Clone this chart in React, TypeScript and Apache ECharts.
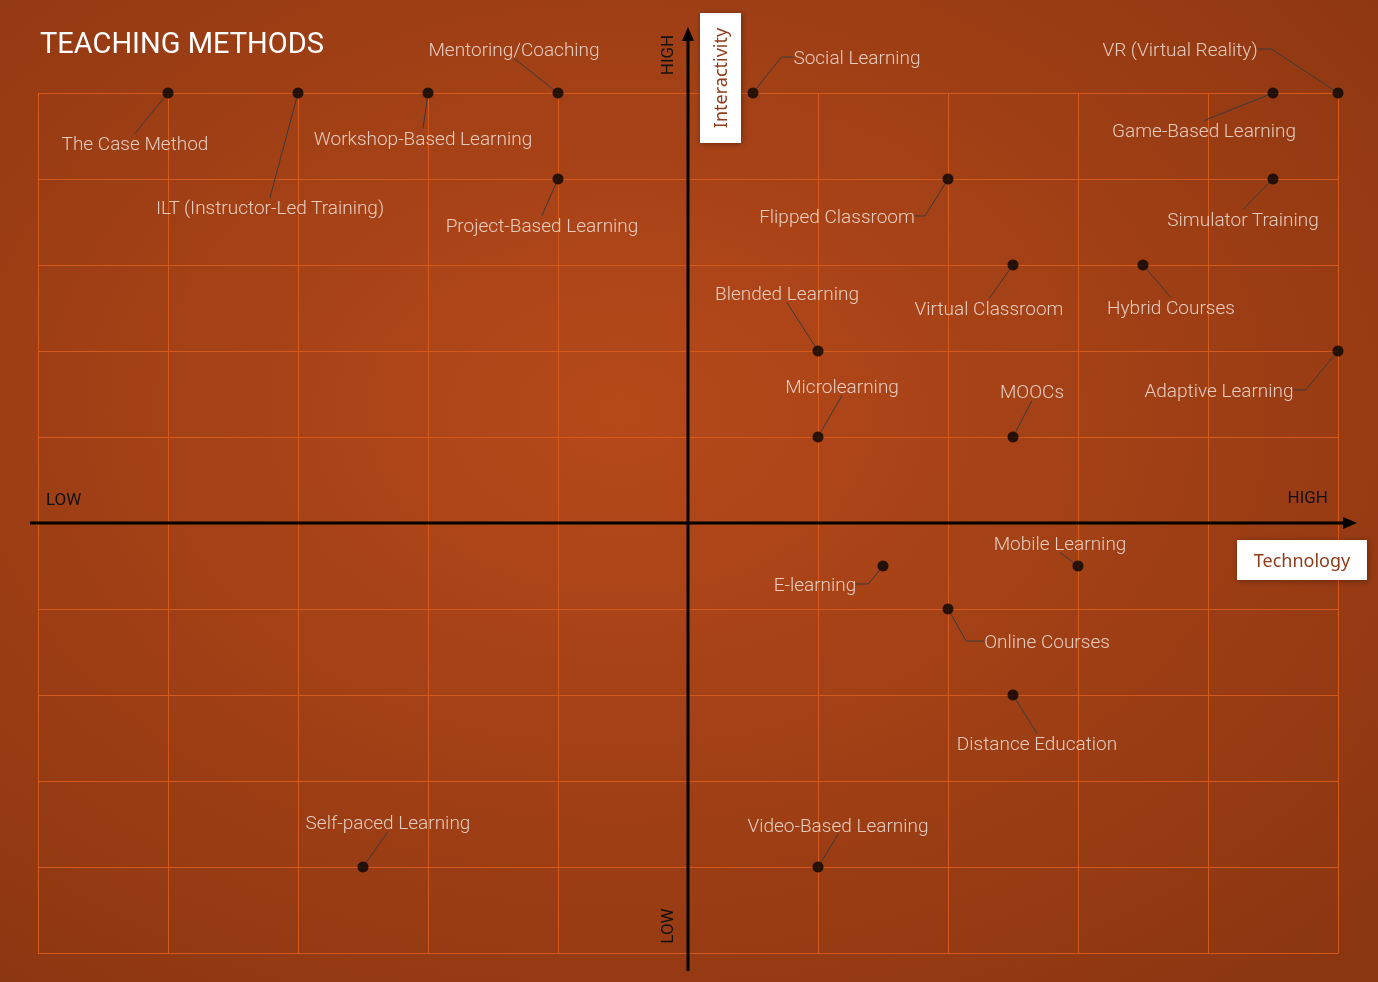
import React, { useEffect, useRef } from "react";
import * as echarts from "echarts";

// ---- data ----
const methods = [
  "The Case Method",
  "ILT (Instructor-Led Training)",
  "Workshop-Based Learning",
  "Mentoring/Coaching",
  "Project-Based Learning",
  "Social Learning",
  "VR (Virtual Reality)",
  "Game-Based Learning",
  "Flipped Classroom",
  "Simulator Training",
  "Virtual Classroom",
  "Hybrid Courses",
  "Blended Learning",
  "Adaptive Learning",
  "Microlearning",
  "MOOCs",
  "Mobile Learning",
  "E-learning",
  "Online Courses",
  "Distance Education",
  "Video-Based Learning",
  "Self-paced Learning",
];
// Technology (x), from LOW (-5) to HIGH (5)
const technology = [-4, -3, -2, -1, -1, 0.5, 5, 4.5, 2, 4.5, 2.5, 3.5, 1, 5, 1, 2.5, 3, 1.5, 2, 2.5, 1, -2.5];
// Interactivity (y), from LOW (-5) to HIGH (5)
const interactivity = [5, 5, 5, 5, 4, 5, 5, 5, 4, 4, 3, 3, 2, 2, 1, 1, -0.5, -0.5, -1, -2, -4, -4];

// label placement (pixels relative to the dot) and leader-line tail
const labelOffsetX = [-33, -28, -5, -44, -16, 104, -158, -69, -111, -30, -24, 28, -31, -119, 24, 19, -18, -68, 99, 24, 20, 25];
const labelOffsetY = [50, 114, 45, -44, 46, -36, -44, 37, 37, 40, 43, 42, -58, 39, -51, -46, -23, 18, 32, 48, -42, -45];
const leaderTail = [0, 0, 0, 0, 0, 12, 14, 0, 10, 0, 0, 0, 0, 12, 0, 0, 0, 12, 18, 0, 0, 0];
// invisible side padding that steers the leader line to the label's top edge
const labelSidePad = [0, 0, 0, 0, 0, 0, 0, 60, 0, 0, 0, 0, 0, 0, 0, 0, 0, 0, 0, 0, 0, 0];

const axisMin = -5;
const axisMax = 5;
const axisStep = 1;

export default function App() {
  const ref = useRef<HTMLDivElement>(null);

  useEffect(() => {
    const chart = echarts.init(ref.current!, null, { renderer: "svg" });
    const data = methods.map((name, i) => {
      const item: any = {
        name,
        value: [technology[i], interactivity[i]],
        labelLine: { length2: leaderTail[i] },
      };
      if (labelSidePad[i] > 0) {
        item.label = { padding: [0, labelSidePad[i], 0, labelSidePad[i]], backgroundColor: "rgba(0,0,0,0)" };
      }
      return item;
    });

    const labelFont = "Roboto, 'Noto Sans', sans-serif";
    const axisCommon = {
      type: "value",
      min: axisMin,
      max: axisMax,
      interval: axisStep,
      axisLine: { show: false },
      axisTick: { show: false },
      axisLabel: { show: false },
      splitLine: { show: true, showMinLine: true, showMaxLine: true, lineStyle: { color: "#D4591C", width: 1 } },
    };

    chart.setOption({
      animation: false,
      backgroundColor: {
        type: "radial",
        x: 0.45,
        y: 0.42,
        r: 0.75,
        colorStops: [
          { offset: 0, color: "#B6491A" },
          { offset: 1, color: "#8C3611" },
        ],
      },
      title: {
        text: "TEACHING METHODS",
        left: 40,
        top: 28,
        padding: 0,
        textStyle: { color: "#FFFFFF", fontSize: 29, fontWeight: "normal", fontFamily: labelFont },
      },
      grid: { left: 38, right: 40, top: 93, bottom: 29 },
      xAxis: axisCommon,
      yAxis: axisCommon,
      series: [
        {
          type: "scatter",
          symbol: "circle",
          symbolSize: 11,
          itemStyle: { color: "#050505" },
          data,
          label: {
            show: true,
            formatter: "{b}",
            color: "#F8EFE9",
            fontSize: 19,
            fontFamily: labelFont,
            fontWeight: 300,
          },
          labelLine: { show: true, lineStyle: { color: "#3A3A3A", width: 1 } },
          labelLayout: (p: any) => ({
            x: p.rect.x + p.rect.width / 2 + labelOffsetX[p.dataIndex],
            y: p.rect.y + p.rect.height / 2 + labelOffsetY[p.dataIndex],
            align: "center",
            verticalAlign: "middle",
          }),
          z: 5,
        },
      ],
      graphic: [
        // horizontal axis
        { type: "line", shape: { x1: 30, y1: 523, x2: 1346, y2: 523 }, style: { stroke: "#000", lineWidth: 3 }, z: 10 },
        { type: "polygon", shape: { points: [[1357, 523], [1343, 517], [1343, 529]] }, style: { fill: "#000" }, z: 10 },
        // vertical axis
        { type: "line", shape: { x1: 688, y1: 971, x2: 688, y2: 38 }, style: { stroke: "#000", lineWidth: 3 }, z: 10 },
        { type: "polygon", shape: { points: [[688, 27], [682, 41], [694, 41]] }, style: { fill: "#000" }, z: 10 },
        // axis end labels
        { type: "text", x: 46, y: 499, style: { text: "LOW", fill: "#111", fontSize: 17, fontFamily: labelFont, align: "left", verticalAlign: "middle" }, z: 10 },
        { type: "text", x: 1328, y: 497, style: { text: "HIGH", fill: "#111", fontSize: 17, fontFamily: labelFont, align: "right", verticalAlign: "middle" }, z: 10 },
        { type: "text", x: 667, y: 55, rotation: Math.PI / 2, style: { text: "HIGH", fill: "#111", fontSize: 17, fontFamily: labelFont, align: "center", verticalAlign: "middle" }, z: 10 },
        { type: "text", x: 667, y: 926, rotation: Math.PI / 2, style: { text: "LOW", fill: "#111", fontSize: 17, fontFamily: labelFont, align: "center", verticalAlign: "middle" }, z: 10 },
        // axis title boxes
        { type: "rect", shape: { x: 700, y: 13, width: 41, height: 130 }, style: { fill: "#FFFFFF", shadowBlur: 6, shadowColor: "rgba(0,0,0,0.35)", shadowOffsetX: 1, shadowOffsetY: 1 }, z: 11 },
        { type: "text", x: 720, y: 78, rotation: Math.PI / 2, style: { text: "Interactivity", fill: "#8E3B19", fontSize: 18, fontFamily: "'Noto Sans', sans-serif", align: "center", verticalAlign: "middle" }, z: 12 },
        { type: "rect", shape: { x: 1237, y: 540, width: 130, height: 40 }, style: { fill: "#FFFFFF", shadowBlur: 6, shadowColor: "rgba(0,0,0,0.35)", shadowOffsetX: 1, shadowOffsetY: 1 }, z: 11 },
        { type: "text", x: 1302, y: 560, style: { text: "Technology", fill: "#8E3B19", fontSize: 18, fontFamily: "'Noto Sans', sans-serif", align: "center", verticalAlign: "middle" }, z: 12 },
      ],
    });
    return () => chart.dispose();
  }, []);

  return <div ref={ref} style={{ position: "fixed", left: 0, top: 0, width: 1378, height: 982 }} />;
}
